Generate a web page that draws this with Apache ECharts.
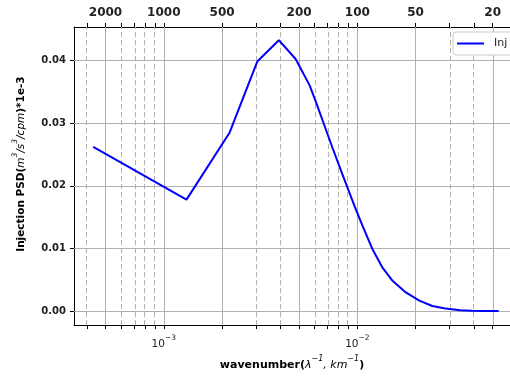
<!DOCTYPE html>
<html>
<head>
<meta charset="utf-8">
<script src="https://cdn.jsdelivr.net/npm/echarts@6/dist/echarts.min.js"></script>
<style>html,body{margin:0;padding:0;background:#fff}#c{width:510px;height:376px}</style>
</head>
<body>
<div id="c"></div>
<script>
// ---- data (wavenumber in 1/km, PSD) ----
const wavenumber = [4.32e-4, 1.31e-3, 2.19e-3, 3.04e-3, 3.93e-3, 4.80e-3, 5.67e-3, 6.12e-3, 6.76e-3, 7.47e-3, 8.4e-3, 9.1e-3, 9.66e-3, 0.01064, 0.0120, 0.01349, 0.0152, 0.0178, 0.0209, 0.0244, 0.0280, 0.0300, 0.0340, 0.0390, 0.0450, 0.0537];
const injPSD     = [0.0262, 0.0178, 0.0285, 0.0398, 0.0432, 0.0402, 0.0360, 0.0333, 0.0296, 0.0259, 0.0217, 0.0189, 0.0168, 0.0136, 0.00984, 0.00695, 0.00485, 0.0030, 0.00169, 0.00084, 0.00048, 0.00036, 0.00018, 0.00008, 0.00004, 0.00003];
const seriesName = 'Inj';

// bottom axis: decade labels (exponents) and all tick positions (wavenumber)
const bottomLabelExponents = [-3, -2];
const tickWavenumbers = [4e-4,5e-4,6e-4,7e-4,8e-4,9e-4,1e-3,2e-3,3e-3,4e-3,5e-3,6e-3,7e-3,8e-3,9e-3,1e-2,2e-2,3e-2,4e-2,5e-2];
// top axis: wavelength labels (km)
const topWavelengths = [2000, 1000, 500, 200, 100, 50, 20];
// dashed vertical grid (wavenumber)
const dashedGridWavenumbers = [4e-4,6e-4,7e-4,8e-4,9e-4,3e-3,4e-3,6e-3,7e-3,8e-3,9e-3,3e-2,4e-2];
// y ticks
const yTicks = [0, 0.01, 0.02, 0.03, 0.04];

const X_MIN = -3.4639, X_MAX = -1.2113;   // log10 extent
const Y_MIN = -0.0022, Y_MAX = 0.0453;

const lg = v => Math.log10(v);
const FONT = 'DejaVu Sans';
const GRID = '#b0b0b0';

const gridLines = [];
topWavelengths.forEach(w => gridLines.push({xAxis: lg(1 / w), lineStyle: {type: 'solid', color: GRID, width: 1}}));
dashedGridWavenumbers.forEach(k => gridLines.push({xAxis: lg(k), lineStyle: {type: [5, 3], color: GRID, width: 1}}));
yTicks.forEach(y => gridLines.push({yAxis: y, lineStyle: {type: 'solid', color: GRID, width: 1}}));

const chart = echarts.init(document.getElementById('c'));
chart.setOption({
  animation: false,
  backgroundColor: '#fff',
  textStyle: {fontFamily: FONT},
  grid: {left: 74, top: 27, width: 437, height: 301, containLabel: false},
  legend: {
    data: [{name: seriesName, icon: 'rect'}],
    left: 453, top: 32,
    backgroundColor: '#fff',
    borderColor: '#cccccc', borderWidth: 1, borderRadius: 3,
    padding: [6, 8, 6, 4],
    itemWidth: 27, itemHeight: 2,
    itemStyle: {color: '#0000ff'},
    textStyle: {fontFamily: FONT, fontSize: 11, color: '#222', padding: [0, 0, 0, 5]}
  },
  xAxis: [
    {
      type: 'value', position: 'bottom', min: X_MIN, max: X_MAX,
      axisLine: {show: true, onZero: false, lineStyle: {color: '#000', width: 1}},
      axisTick: {show: true, inside: false, length: 4, customValues: tickWavenumbers.map(lg), lineStyle: {color: '#000'}},
      axisLabel: {
        customValues: bottomLabelExponents, margin: 9,
        formatter: v => '{a|10}{b|\u2212' + Math.abs(Math.round(v)) + '}',
        rich: {
          a: {fontFamily: FONT, fontSize: 10.5, color: '#222', lineHeight: 16, verticalAlign: 'bottom'},
          b: {fontFamily: FONT, fontSize: 7.5, color: '#222', lineHeight: 8, verticalAlign: 'top'}
        }
      },
      splitLine: {show: false},
      name: '{b|wavenumber(}{i|\u03bb}{s|\u22121}{i|, km}{s|\u22121}{b|)}',
      nameLocation: 'middle', nameGap: 27,
      nameTextStyle: {
        rich: {
          b: {fontFamily: FONT, fontSize: 11, fontWeight: 'bold', color: '#000', lineHeight: 16, verticalAlign: 'bottom'},
          i: {fontFamily: FONT, fontSize: 11, fontStyle: 'italic', color: '#000', lineHeight: 16, verticalAlign: 'bottom'},
          s: {fontFamily: FONT, fontSize: 8, fontStyle: 'italic', color: '#000', lineHeight: 9, verticalAlign: 'top'}
        }
      }
    },
    {
      type: 'value', position: 'top', min: X_MIN, max: X_MAX,
      axisLine: {show: true, onZero: false, lineStyle: {color: '#000', width: 1}},
      axisTick: {show: true, inside: false, length: 4, customValues: tickWavenumbers.map(lg), lineStyle: {color: '#000'}},
      axisLabel: {
        customValues: topWavelengths.map(w => lg(1 / w)), margin: 8,
        formatter: v => String(Math.round(1 / Math.pow(10, v))),
        fontFamily: FONT, fontSize: 12, fontWeight: 'bold', color: '#222'
      },
      splitLine: {show: false}
    }
  ],
  yAxis: {
    type: 'value', min: Y_MIN, max: Y_MAX,
    axisLine: {show: true, lineStyle: {color: '#000', width: 1}},
    axisTick: {show: true, inside: false, length: 4, customValues: yTicks, lineStyle: {color: '#000'}},
    axisLabel: {
      customValues: yTicks, margin: 8,
      formatter: v => v.toFixed(2),
      fontFamily: FONT, fontSize: 10, fontWeight: 'bold', color: '#222'
    },
    splitLine: {show: false},
    name: '{b|Injection PSD(}{i|m}{s|3}{i|/s}{s|3}{i|/cpm}{b|)*1e-3}',
    nameLocation: 'middle', nameGap: 47,
    nameTextStyle: {
      padding: [0, 0, 0, 24],
      rich: {
        b: {fontFamily: FONT, fontSize: 10.5, fontWeight: 'bold', color: '#000', lineHeight: 16, verticalAlign: 'bottom'},
        i: {fontFamily: FONT, fontSize: 10.5, fontStyle: 'italic', color: '#000', lineHeight: 16, verticalAlign: 'bottom'},
        s: {fontFamily: FONT, fontSize: 7.5, fontStyle: 'italic', color: '#000', lineHeight: 9, verticalAlign: 'top'}
      }
    }
  },
  series: [{
    name: seriesName,
    type: 'line',
    xAxisIndex: 0,
    z: 3,
    symbol: 'none',
    smooth: false,
    color: '#0000ff',
    lineStyle: {color: '#0000ff', width: 2},
    data: wavenumber.map((k, i) => [lg(k), injPSD[i]]),
    markLine: {
      z: 1, silent: true, symbol: ['none', 'none'], animation: false,
      label: {show: false}, emphasis: {disabled: true},
      data: gridLines
    }
  }]
});
</script>
</body>
</html>
